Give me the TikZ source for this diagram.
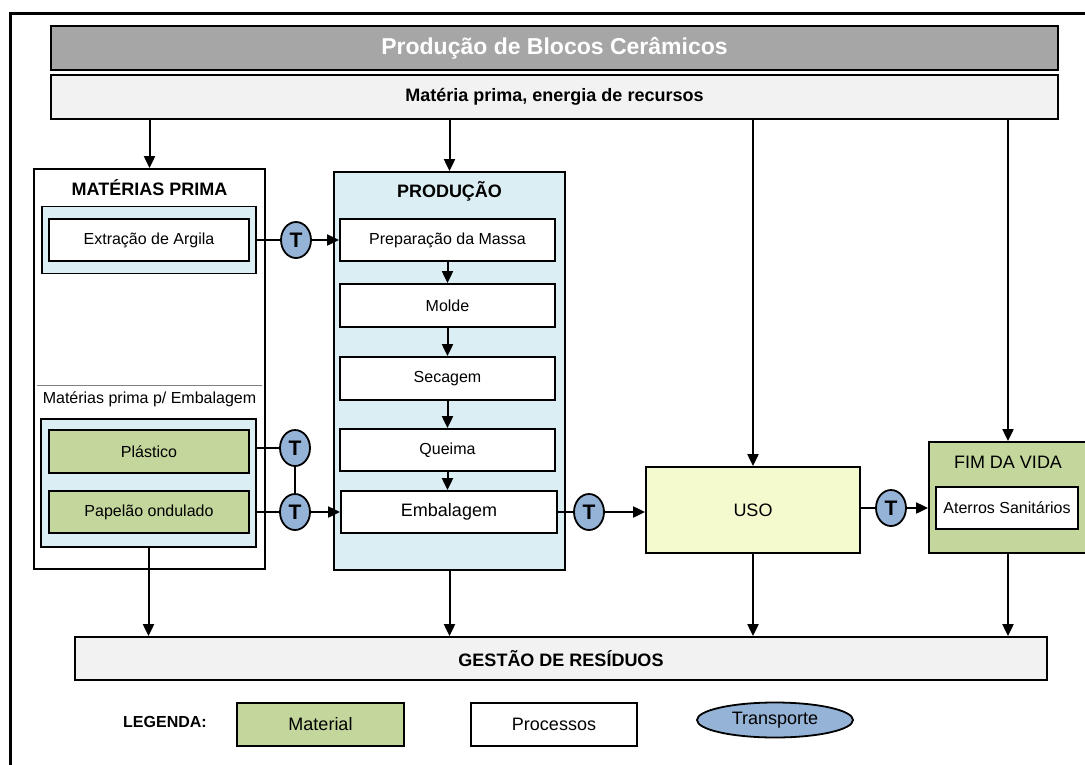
\documentclass[tikz,border=0pt]{standalone}
\usepackage{fontspec}
\setmainfont{Liberation Sans}
\usetikzlibrary{arrows.meta,shapes.geometric}
\definecolor{titlegray}{HTML}{A6A6A6}
\definecolor{barfill}{HTML}{F2F2F2}
\definecolor{lblue}{HTML}{DBEEF4}
\definecolor{matgreen}{HTML}{C3D69B}
\definecolor{usofill}{HTML}{F4FACD}
\definecolor{tblue}{HTML}{95B3D7}
\definecolor{sepgray}{HTML}{808080}
\newcommand{\fs}[1]{\fontsize{#1}{#1}\selectfont}
\begin{document}
\begin{tikzpicture}[x=1pt,y=-1pt,
  base/.style={draw, line width=1.8pt, inner sep=0pt, align=center},
  procbox/.style={base, fill=white, font=\fs{16}},
  matbox/.style={base, fill=matgreen, font=\fs{16}},
  bluebox/.style={base, fill=lblue},
  barbox/.style={base, fill=barfill, font=\bfseries\fs{18}},
  tnode/.style={ellipse, draw, line width=1.8pt, fill=tblue, inner sep=0pt,
                minimum width=30pt, minimum height=36pt, font=\bfseries\fs{21}},
  lbl/.style={inner sep=0pt, align=center},
  conn/.style={line width=2pt},
  arr/.style={line width=2pt, -{Triangle[length=12pt,width=11pt]}}]
\useasboundingbox (0,0) rectangle (1085,764);
\fill[white] (0,0) rectangle (1085,764);
% outer frame
\draw[line width=3pt] (10,775) -- (10,13) -- (1095,13);
% top bars
\node[base, fill=titlegray, minimum width=1007pt, minimum height=44pt,
      text=white, font=\bfseries\fs{23}] (title) at (554.5,48) {Produção de Blocos Cerâmicos};
\node[barbox, minimum width=1007pt, minimum height=44pt] (res) at (554.5,97) {Matéria prima, energia de recursos};
% MATERIAS PRIMA
\node[base, fill=white, minimum width=231pt, minimum height=400pt] (mp) at (149.5,369) {};
\node[lbl, font=\bfseries\fs{18}] (mplab) at (149.5,188) {MATÉRIAS PRIMA};
\node[bluebox, minimum width=214pt, minimum height=67pt] (extc) at (149,240) {};
\node[procbox, minimum width=200pt, minimum height=42pt] (extr) at (149,240) {Extração de Argila};
\coordinate (sepL) at (37,385);
\coordinate (sepR) at (262,385);
\draw[sepgray, line width=0.8pt] (sepL) -- (sepR);
\node[lbl, font=\fs{16}] (emblab) at (149.5,399) {Matérias prima p/ Embalagem};
\node[bluebox, minimum width=215pt, minimum height=128pt] (embc) at (148.5,483) {};
\node[matbox, minimum width=200pt, minimum height=43pt] (plas) at (149,451.5) {Plástico};
\node[matbox, minimum width=200pt, minimum height=42pt] (pap) at (149,512) {Papelão ondulado};
% PRODUCAO
\node[bluebox, minimum width=231pt, minimum height=398pt] (prod) at (449.5,371) {};
\node[lbl, font=\bfseries\fs{18}] (prodlab) at (449.5,191) {PRODUÇÃO};
\node[procbox, minimum width=215pt, minimum height=42pt] (prep) at (447.5,240) {Preparação da Massa};
\node[procbox, minimum width=215pt, minimum height=43pt] (molde) at (447.5,305.5) {Molde};
\node[procbox, minimum width=215pt, minimum height=43pt] (sec) at (447.5,378.5) {Secagem};
\node[procbox, minimum width=215pt, minimum height=42pt] (queima) at (447.5,450) {Queima};
\node[procbox, minimum width=216pt, minimum height=42pt, font=\fs{18}] (emb) at (449,512) {Embalagem};
% USO
\node[base, fill=usofill, minimum width=214pt, minimum height=86pt, font=\fs{18}] (uso) at (753,510) {USO};
% FIM DA VIDA
\node[base, fill=matgreen, minimum width=158pt, minimum height=111pt] (fim) at (1008,497.5) {};
\node[lbl, font=\fs{18}] (fimlab) at (1008,462) {FIM DA VIDA};
\node[procbox, minimum width=142pt, minimum height=42pt] (aterro) at (1007,508) {Aterros Sanitários};
% GESTAO
\node[barbox, minimum width=972pt, minimum height=43pt] (gest) at (561,658.5) {GESTÃO DE RESÍDUOS};
% transport nodes
\node[tnode] (t1) at (296,240) {T};
\node[tnode] (t2) at (295,448) {T};
\node[tnode] (t3) at (295,512) {T};
\node[tnode] (t4) at (589,512) {T};
\node[tnode] (t5) at (891,508) {T};
% legend
\node[lbl, font=\bfseries\fs{16}] (leg) at (165,722) {LEGENDA:};
\node[matbox, minimum width=167pt, minimum height=43pt, font=\fs{18}] (legmat) at (320.5,724.5) {Material};
\node[procbox, minimum width=166pt, minimum height=43pt, font=\fs{18}] (legproc) at (554,724.5) {Processos};
\node[ellipse, draw, line width=1.8pt, fill=tblue, inner sep=0pt, minimum width=156pt,
      minimum height=35pt, font=\fs{18}] (legt) at (775,720) {Transporte};
% arrows from resources bar
\draw[arr] (mp.north |- res.south) -- (mp.north);
\draw[arr] (prod.north |- res.south) -- (prod.north);
\draw[arr] (uso.north |- res.south) -- (uso.north);
\draw[arr] (fim.north |- res.south) -- (fim.north);
% raw material flows
\draw[conn] (extc.east) -- (t1.west);
\draw[arr] (t1.east) -- (t1.east -| prep.west);
\draw[conn] (embc.east |- t2.center) -- (t2.west);
\draw[conn] (embc.east |- t3.center) -- (t3.west);
\draw[conn] (t2.south) -- (t3.north);
\draw[arr] (t3.east) -- (t3.east -| emb.west);
% production chain
\draw[arr] (prep.south) -- (prep.south |- molde.north);
\draw[arr] (molde.south) -- (molde.south |- sec.north);
\draw[arr] (sec.south) -- (sec.south |- queima.north);
\draw[arr] (queima.south) -- (queima.south |- emb.north);
% to use and end of life
\draw[conn] (emb.east) -- (t4.west);
\draw[arr] (t4.east) -- (t4.east -| uso.west);
\draw[conn] (uso.east |- t5.center) -- (t5.west);
\draw[arr] (t5.east) -- (t5.east -| fim.west);
% to waste management
\draw[arr] (embc.south) -- (embc.south |- gest.north);
\draw[arr] (prod.south) -- (prod.south |- gest.north);
\draw[arr] (uso.south) -- (uso.south |- gest.north);
\draw[arr] (fim.south) -- (fim.south |- gest.north);
\end{tikzpicture}
\end{document}
